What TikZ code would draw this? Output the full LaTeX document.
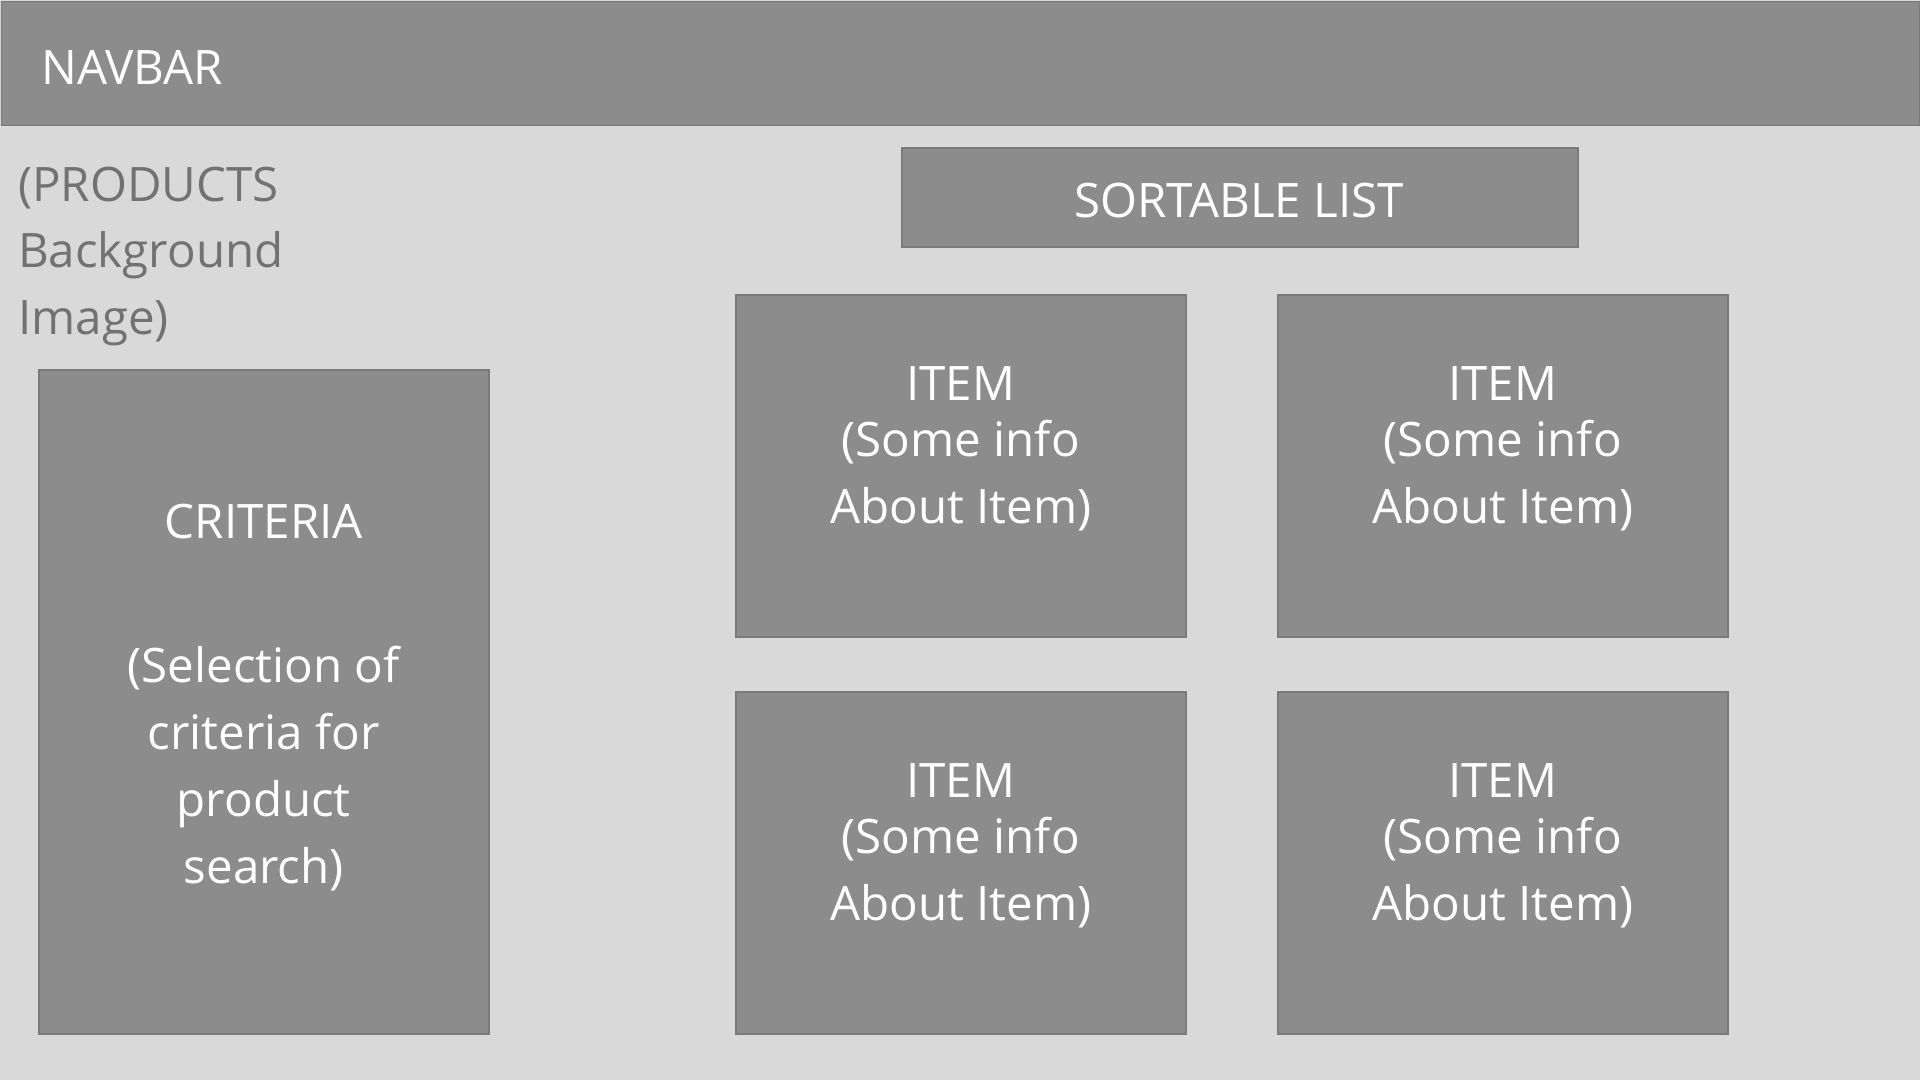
\documentclass[tikz,border=0pt]{standalone}
\usepackage{fontspec}
\setmainfont{Open Sans}
\usetikzlibrary{positioning}
\definecolor{pageGray}{HTML}{D9D9D9}
\definecolor{boxGray}{HTML}{8C8C8C}
\definecolor{edgeGray}{HTML}{7A7A7A}
\definecolor{noteGray}{HTML}{727272}
\newcommand*{\ItemBoxes}[1]{% #1 = list of x/y/name
  \foreach \x/\y/\name in {#1} {
    \node [panel, minimum width=450pt, minimum height=342pt] (\name) at (\x,\y) {};
    \node [boxtext, anchor=base] (\name-text) at ([yshift=-229pt]\name.north)
      {ITEM\\[-11pt](Some info\\About Item)};
    }%
}

\begin{document}
\begin{tikzpicture}[x=1pt, y=-1pt,
    panel/.style={draw=edgeGray, fill=boxGray, line width=1.5pt, inner sep=0pt, anchor=north west},
    boxtext/.style={text=white, align=center, inner sep=0pt, font=\fontsize{47.5}{67}\selectfont},
    notetext/.style={text=noteGray, align=left, inner sep=0pt, font=\fontsize{47.5}{66.5}\selectfont}]
  \fill[pageGray] (0,0) rectangle (1920,1080);
  \useasboundingbox (0,0) rectangle (1920,1080);
  % top bar
  \node [panel, minimum width=1918.5pt, minimum height=124pt] (navbar) at (0.75,0.75) {};
  \node [boxtext, anchor=base west] (navbar-text) at (41,84) {NAVBAR};
  % left column
  \node [notetext, anchor=base west] (products) at (18,334) {(PRODUCTS\\Background\\Image)};
  \node [panel, minimum width=450pt, minimum height=664pt] (criteria) at (38,369) {};
  \node [boxtext, anchor=base] (criteria-text) at ([yshift=-514pt]criteria.north)
    {CRITERIA\\[77pt](Selection of\\criteria for\\product\\search)};
  % right column
  \node [panel, minimum width=676pt, minimum height=99pt] (sortlist) at (901,147) {};
  \node [boxtext, anchor=base] (sortlist-text) at (1239,217) {SORTABLE LIST};
  \ItemBoxes{735/294/item1, 1277/294/item2, 735/691/item3, 1277/691/item4}
\end{tikzpicture}
\end{document}
